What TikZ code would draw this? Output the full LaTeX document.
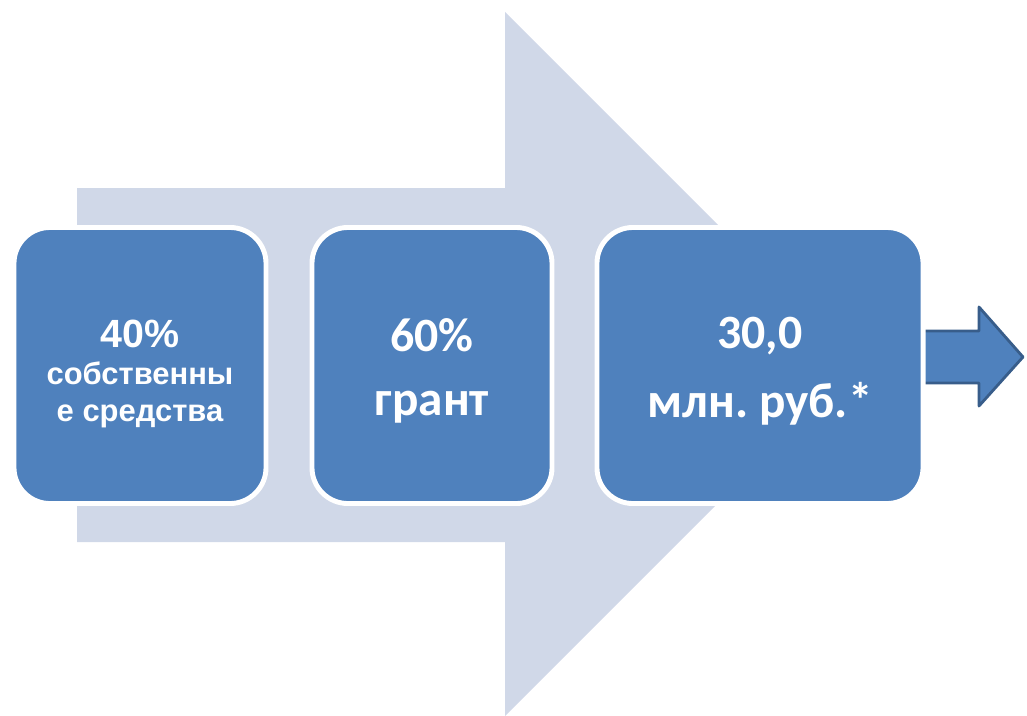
\documentclass[tikz,border=0pt]{standalone}
\usepackage{fontspec}
\usepackage{xcolor}
\usepackage{tikz}
\newfontfamily\arialfont{Liberation Sans}
\newfontfamily\califont{Carlito}
\definecolor{boxblue}{HTML}{4F81BD}
\definecolor{backgray}{HTML}{D0D8E8}
\definecolor{edgeblue}{HTML}{385D8A}
\frenchspacing

\begin{document}
\begin{tikzpicture}[x=0.025cm, y=-0.025cm,
        stage/.style={draw=white, line width=3.5pt, fill=boxblue, rounded corners=0.9cm,
            minimum height=6.9cm},
        caption/.style={text=white, align=center, inner sep=0pt}]
        \useasboundingbox (0,0) rectangle (1027,716);
        % Big arrow behind the boxes
        \fill[backgray] (77,188) -- (505,188) -- (505,12) -- (857,364) -- (505,716)
            -- (505,542) -- (77,542) -- cycle;
        % Small arrow on the right
        \draw[edgeblue, fill=boxblue, line width=2pt, line join=round] (915,331) -- (979,331)
            -- (979,307) -- (1023,357) -- (979,406) -- (979,383) -- (915,383) -- cycle;
        
        \node[stage, minimum width=6.3cm] (own) at (140,365.5) {};
        \node[stage, minimum width=6cm] (grant) at (432,365.5) {};
        \node[stage, minimum width=8.15cm] (total) at (760,365.5) {};
        
        \node[caption, font=\arialfont\bfseries\fontsize{22}{26.5}\selectfont, yshift=-6pt]
            (owntext) at (own.center) {{\arialfont\bfseries\fontsize{28}{26.5}\selectfont 40\%}\\собственны\\е средства};
        \node[caption, font=\califont\bfseries\fontsize{35}{45.5}\selectfont, yshift=-4pt]
            (granttext) at (grant.center) {{\fontsize{34}{45.5}\selectfont 60\%}\\грант};
        \node[caption, font=\califont\bfseries\fontsize{35}{49.5}\selectfont, yshift=-4pt]
            (totaltext) at (total.center) {{\fontsize{34}{49.5}\selectfont 30,0}\\млн. руб.*};
    \end{tikzpicture}
\end{document}
